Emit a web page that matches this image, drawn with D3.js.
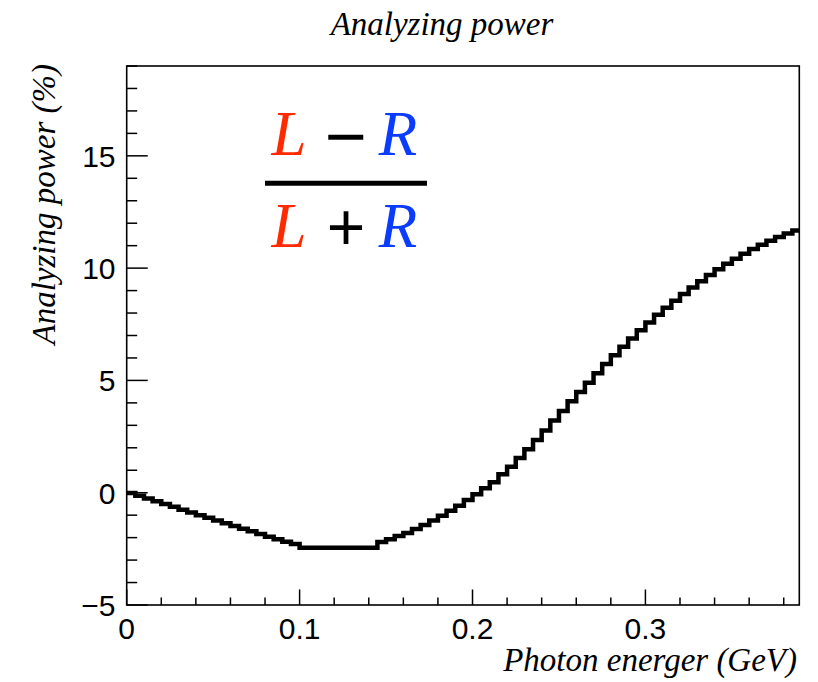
<!DOCTYPE html>
<html>
<head>
<meta charset="utf-8">
<script src="https://cdn.jsdelivr.net/npm/d3@7"></script>
<style>
	body { margin: 0; background: #fff; }
	svg { display: block; }
	.tickLabel { font-family: "Liberation Sans", Arial, sans-serif; font-size: 30px; fill: #000; }
	.title { font-family: "Liberation Serif", "Times New Roman", serif; font-style: italic; font-size: 33px; fill: #000; }
	.fracLetter { font-family: "Liberation Serif", "Times New Roman", serif; font-style: italic; font-size: 63px; }
	.fracOp { font-family: "Liberation Sans", Arial, sans-serif; fill: #000; }
</style>
</head>
<body>
<svg id="chart" width="818" height="682"></svg>
<script>
// histogram: 78 bins of 0.005 GeV starting at 0, values in %
var binWidth = 0.005;
var apValues = [
	-0.01, -0.13, -0.26, -0.38, -0.50, -0.63, -0.76, -0.88, -1.00, -1.12,
	-1.24, -1.36, -1.48, -1.60, -1.72, -1.84, -1.96, -2.07, -2.18, -2.28,
	-2.45, -2.45, -2.45, -2.45, -2.45, -2.45, -2.45, -2.45, -2.45, -2.20,
	-2.07, -1.93, -1.79, -1.62, -1.44, -1.24, -1.03, -0.80, -0.58, -0.33,
	-0.07, 0.20, 0.47, 0.82, 1.16, 1.55, 1.94, 2.35, 2.77, 3.21,
	3.64, 4.07, 4.48, 4.90, 5.32, 5.73, 6.12, 6.50, 6.87, 7.23,
	7.58, 7.92, 8.24, 8.55, 8.85, 9.14, 9.42, 9.69, 9.95, 10.19,
	10.42, 10.64, 10.85, 11.04, 11.22, 11.39, 11.54, 11.68
];

var xMajorTicks = [0, 0.1, 0.2, 0.3];
var xTickLabels = ["0", "0.1", "0.2", "0.3"];
var yMajorTicks = [-5, 0, 5, 10, 15];
var yTickLabels = ["\u22125", "0", "5", "10", "15"];

var xDomain = [0, 0.389];
var yDomain = [-5, 19];

var frame = { left: 126.7, right: 799.3, top: 66, bottom: 605 };

var svg = d3.select("#chart");

var x = d3.scaleLinear().domain(xDomain).range([frame.left, frame.right]);
var y = d3.scaleLinear().domain(yDomain).range([frame.bottom, frame.top]);

svg.append("clipPath")
	.attr("id", "frameClip")
  .append("rect")
	.attr("x", frame.left)
	.attr("y", frame.top)
	.attr("width", frame.right - frame.left)
	.attr("height", frame.bottom - frame.top);

// step line
var pts = apValues.map(function (v, i) { return [i * binWidth, v]; });
pts.push([apValues.length * binWidth, apValues[apValues.length - 1]]);

var line = d3.line()
	.x(function (d) { return x(d[0]); })
	.y(function (d) { return y(d[1]); })
	.curve(d3.curveStepAfter);

svg.append("path")
	.datum(pts)
	.attr("clip-path", "url(#frameClip)")
	.attr("d", line)
	.attr("fill", "none")
	.attr("stroke", "#000")
	.attr("stroke-width", 4.5)
	.attr("stroke-linejoin", "miter");

// minor + major ticks (inward)
var xMinor = d3.range(0, 0.389, 0.02);
svg.append("g").selectAll("line")
	.data(xMinor)
	.enter()
  .append("line")
	.attr("x1", function (d) { return x(d); })
	.attr("x2", function (d) { return x(d); })
	.attr("y1", frame.bottom)
	.attr("y2", function (d, i) { return frame.bottom - (i % 5 === 0 ? 15.5 : 7.5); })
	.attr("stroke", "#000")
	.attr("stroke-width", 1.5);

var yMinor = d3.range(-5, 19.01, 1);
svg.append("g").selectAll("line")
	.data(yMinor)
	.enter()
  .append("line")
	.attr("y1", function (d) { return y(d); })
	.attr("y2", function (d) { return y(d); })
	.attr("x1", frame.left)
	.attr("x2", function (d, i) { return frame.left + (i % 5 === 0 ? 21 : 10.5); })
	.attr("stroke", "#000")
	.attr("stroke-width", 1.5);

// frame
svg.append("rect")
	.attr("x", frame.left)
	.attr("y", frame.top)
	.attr("width", frame.right - frame.left)
	.attr("height", frame.bottom - frame.top)
	.attr("fill", "none")
	.attr("stroke", "#000")
	.attr("stroke-width", 1.6);

// tick labels
svg.append("g").selectAll("text")
	.data(xMajorTicks)
	.enter()
  .append("text")
	.attr("class", "tickLabel")
	.attr("x", function (d) { return x(d); })
	.attr("y", 638.5)
	.attr("text-anchor", "middle")
	.text(function (d, i) { return xTickLabels[i]; });

svg.append("g").selectAll("text")
	.data(yMajorTicks)
	.enter()
  .append("text")
	.attr("class", "tickLabel")
	.attr("x", 115.5)
	.attr("y", function (d) { return y(d); })
	.attr("dy", "0.36em")
	.attr("text-anchor", "end")
	.text(function (d, i) { return yTickLabels[i]; });

// titles
svg.append("text")
	.attr("class", "title")
	.attr("x", 442)
	.attr("y", 35)
	.attr("text-anchor", "middle")
	.text("Analyzing power");

svg.append("text")
	.attr("class", "title")
	.attr("x", 797)
	.attr("y", 671)
	.attr("text-anchor", "end")
	.text("Photon energer (GeV)");

svg.append("text")
	.attr("class", "title")
	.attr("transform", "translate(55,64) rotate(-90)")
	.attr("text-anchor", "end")
	.text("Analyzing power (%)");

// asymmetry formula (L - R) / (L + R)
var fracLetters = [
	{ t: "L", cx: 289, row: 155, col: "#ff2a00" },
	{ t: "R", cx: 398, row: 155, col: "#0a3cff" },
	{ t: "L", cx: 289, row: 247, col: "#ff2a00" },
	{ t: "R", cx: 398, row: 247, col: "#0a3cff" }
];
var fracOps = [
	{ t: "\u2212", cx: 345.5, row: 161, size: 72 },
	{ t: "+", cx: 346, row: 250, size: 66 }
];

var fracGroup = svg.append("g").attr("class", "fracGroup");

fracGroup.selectAll("text.fracLetter")
	.data(fracLetters)
	.enter()
  .append("text")
	.attr("class", "fracLetter")
	.attr("x", function (d) { return d.cx; })
	.attr("y", function (d) { return d.row; })
	.attr("text-anchor", "middle")
	.attr("fill", function (d) { return d.col; })
	.text(function (d) { return d.t; });

fracGroup.selectAll("text.fracOp")
	.data(fracOps)
	.enter()
  .append("text")
	.attr("class", "fracOp")
	.attr("x", function (d) { return d.cx; })
	.attr("y", function (d) { return d.row; })
	.attr("text-anchor", "middle")
	.attr("font-size", function (d) { return d.size + "px"; })
	.text(function (d) { return d.t; });

fracGroup.append("line")
	.attr("x1", 265).attr("x2", 427)
	.attr("y1", 183.3).attr("y2", 183.3)
	.attr("stroke", "#000")
	.attr("stroke-width", 5);
</script>
</body>
</html>
